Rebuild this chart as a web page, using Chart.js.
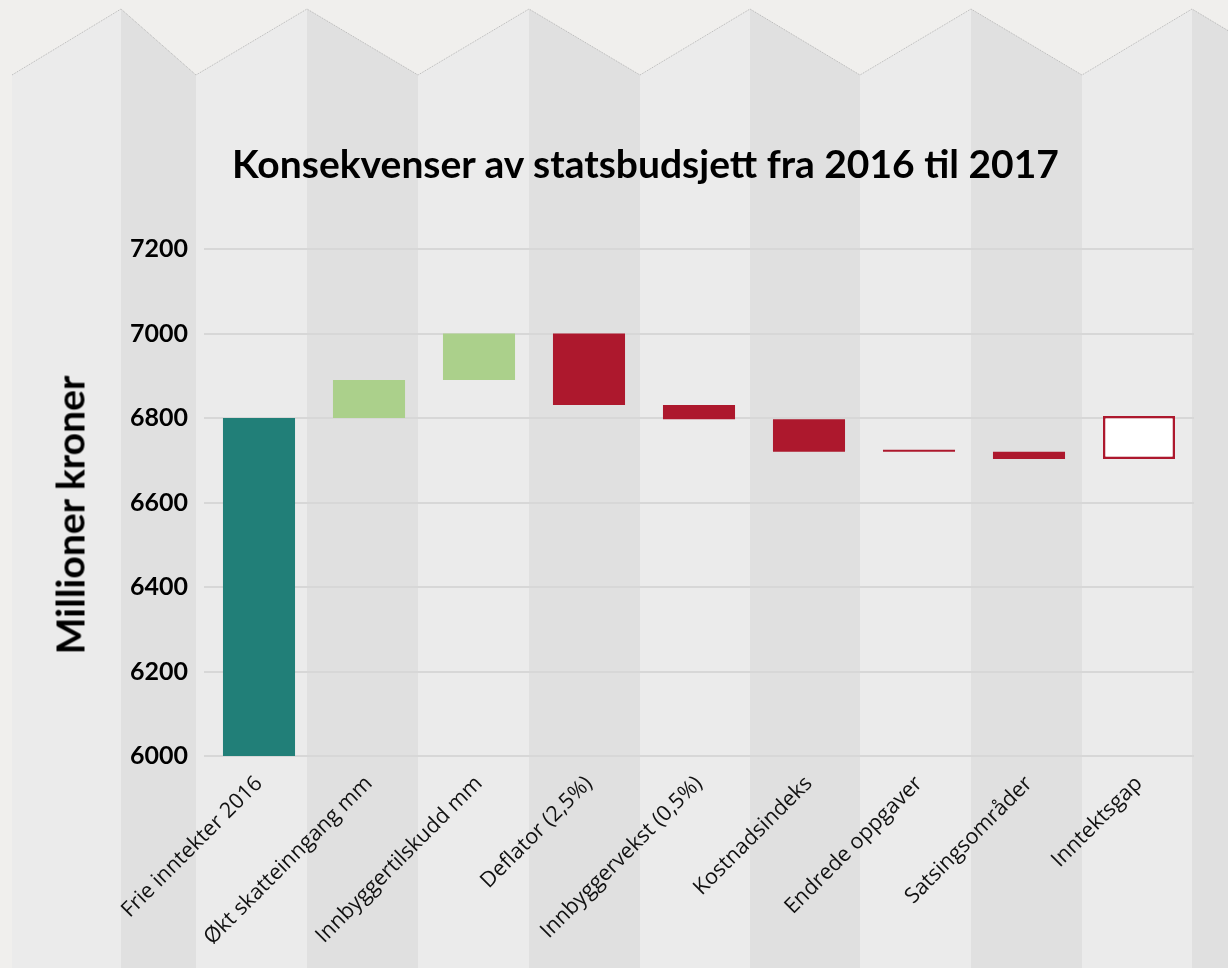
<!DOCTYPE html>
<html lang="no">
<head>
  <meta charset="UTF-8">
  <title>Konsekvenser av statsbudsjett fra 2016 til 2017</title>
  <script src="https://cdn.jsdelivr.net/npm/chart.js"></script>
  <style>
    body {
      margin: 0;
      background: #f0efed;
    }
    .wrap {
      position: relative;
      width: 1228px;
      height: 968px;
    }
    canvas {
      position: absolute;
      left: 0;
      top: 0;
    }
    h2 {
      position: absolute;
      left: 0;
      top: 144px;
      width: 1291px;
      margin: 0;
      text-align: center;
      font: bold 39px/39px Lato, sans-serif;
      color: #000;
    }
    .ytitle {
      position: absolute;
      left: 70px;
      top: 515px;
      transform: translate(-50%, -50%) rotate(-90deg);
      white-space: nowrap;
      font: bold 39px/39px Lato, sans-serif;
      color: #000;
    }
  </style>
</head>
<body>
  <div class="wrap">
    <canvas id="budgetChart" width="1228" height="968"></canvas>
    <h2>Konsekvenser av statsbudsjett fra 2016 til 2017</h2>
    <div class="ytitle">Millioner kroner</div>
  </div>

  <script>
    // waterfall: each bar runs from low to high (millioner kroner)
    const categories = [
      'Frie inntekter 2016',
      'Økt skatteinngang mm',
      'Innbyggertilskudd mm',
      'Deflator (2,5%)',
      'Innbyggervekst (0,5%)',
      'Kostnadsindeks',
      'Endrede oppgaver',
      'Satsingsområder',
      'Inntektsgap'
    ];
    const barLow  = [6000, 6800, 6890, 6831, 6797, 6720, 6720, 6703, 6703];
    const barHigh = [6800, 6890, 7000, 7000, 6831, 6797, 6725, 6720, 6805];
    const yTicks = [6000, 6200, 6400, 6600, 6800, 7000, 7200];

    const teal = '#217f78', green = '#abd08b', red = '#ad182d';
    const fills = [teal, green, green, red, red, red, red, red, '#ffffff'];
    const borders = fills.map((c, i) => i === 8 ? red : c);
    const borderWidths = fills.map((c, i) => i === 8 ? 2.5 : 0);

    // folded paper look behind the chart
    const folds = {
      xs: [12, 121, 196, 307, 418, 529, 640, 750, 860, 971, 1082, 1192, 1302],
      valley: 75,
      peak: 9
    };
    const paperBackground = {
      id: 'paperBackground',
      beforeDraw(chart) {
        const { ctx, width, height } = chart;
        ctx.save();
        ctx.fillStyle = '#f0efed';
        ctx.fillRect(0, 0, width, height);
        const xs = folds.xs;
        const topY = i => (i % 2 === 0 ? folds.valley : folds.peak);
        for (let i = 0; i < xs.length - 1; i++) {
          ctx.beginPath();
          ctx.moveTo(xs[i], topY(i));
          ctx.lineTo(xs[i + 1], topY(i + 1));
          ctx.lineTo(xs[i + 1], height);
          ctx.lineTo(xs[i], height);
          ctx.closePath();
          ctx.fillStyle = i % 2 === 0 ? '#ebebeb' : '#e0e0e0';
          ctx.fill();
        }
        ctx.beginPath();
        ctx.moveTo(xs[0], topY(0));
        for (let i = 1; i < xs.length; i++) ctx.lineTo(xs[i], topY(i));
        ctx.setLineDash([1, 1]);
        ctx.strokeStyle = '#a8a8a8';
        ctx.lineWidth = 0.8;
        ctx.stroke();
        ctx.restore();
      }
    };

    const ctx = document.getElementById('budgetChart').getContext('2d');
    new Chart(ctx, {
      type: 'bar',
      data: {
        labels: categories,
        datasets: [{
          data: categories.map((c, i) => [barLow[i], barHigh[i]]),
          backgroundColor: fills,
          borderColor: borders,
          borderWidth: borderWidths,
          borderSkipped: false,
          barPercentage: 0.655,
          categoryPercentage: 1
        }]
      },
      options: {
        responsive: false,
        animation: false,
        layout: { padding: { top: 249, right: 34, bottom: 0, left: 0 } },
        plugins: {
          legend: { display: false },
          tooltip: { enabled: false }
        },
        scales: {
          x: {
            afterFit: s => { s.height = 212; },
            grid: { display: false },
            border: { display: false },
            ticks: {
              maxRotation: 45,
              minRotation: 45,
              padding: 7,
              color: '#111',
              font: { family: 'Open Sans', size: 21.5 }
            }
          },
          y: {
            min: 6000,
            max: 7200,
            afterFit: s => { s.width = 204; },
            afterBuildTicks: s => { s.ticks = yTicks.map(v => ({ value: v })); },
            grid: { color: '#d7d7d7', lineWidth: 2, drawTicks: false },
            border: { display: false },
            ticks: {
              padding: 16,
              color: '#000',
              font: { family: 'Lato', size: 25, weight: 'bold' },
              callback: v => String(v)
            }
          }
        }
      },
      plugins: [paperBackground]
    });
  </script>
</body>
</html>
